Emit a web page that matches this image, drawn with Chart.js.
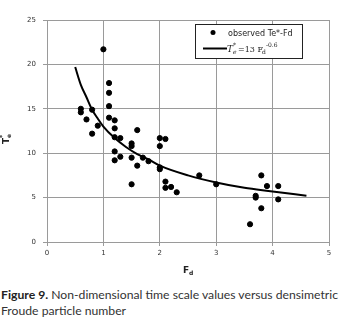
<!DOCTYPE html>
<html lang="en">
<head>
    <meta charset="UTF-8">
    <title>Figure 9</title>
    <script src="https://cdn.jsdelivr.net/npm/chart.js"></script>
    <style>
        body { margin: 0; background: #fff; }
        #wrap { position: relative; width: 347px; height: 329px; }
        #chart { position: absolute; left: 0; top: 0; }
        .caption {
            position: absolute; left: 1px; top: 287px; width: 346px;
            font-family: Lato, "Open Sans", sans-serif; font-size: 12.2px; line-height: 16px;
            color: #333; white-space: nowrap;
        }
        .caption b { color: #222; }
    </style>
</head>
<body>
<div id="wrap">
    <canvas id="chart" width="347" height="285"></canvas>
    <div class="caption"><b>Figure 9.</b> Non-dimensional time scale values versus densimetric<br>Froude particle number</div>
</div>

<script>
    // observed points (Fd, Te*)
    const obsFd = [1.0, 1.1, 1.1, 1.1, 0.6, 0.6, 0.7, 0.8, 0.9, 0.8, 1.1, 1.2, 1.2, 1.6,
                   1.2, 1.3, 1.2, 1.2, 1.3, 1.5, 1.5, 1.5, 1.5, 1.7, 1.6, 1.8,
                   2.0, 2.0, 2.1, 2.0, 2.0, 2.1, 2.1, 2.2, 2.3, 2.7, 3.0,
                   3.7, 3.7, 3.6, 3.8, 3.8, 3.9, 4.1, 4.1];
    const obsTe = [21.7, 17.9, 16.8, 15.3, 15.0, 14.6, 13.8, 14.9, 13.1, 12.2, 14.0, 13.7, 12.8, 12.6,
                   11.8, 11.7, 10.2, 9.2, 9.6, 11.1, 10.8, 9.5, 6.5, 9.5, 8.6, 9.1,
                   11.7, 10.8, 11.6, 8.4, 8.2, 6.8, 6.1, 6.2, 5.6, 7.5, 6.5,
                   5.2, 5.0, 2.0, 7.5, 3.8, 6.3, 6.3, 4.8];

    // fitted curve
    const fitFd = [0.5, 0.6, 0.7, 0.8, 0.9, 1.0, 1.2, 1.4, 1.6, 1.8, 2.0, 2.5, 3.0, 3.5, 4.0, 4.6];
    const fitTe = [19.7, 17.7, 16.3, 14.9, 13.9, 13.0, 11.7, 10.7, 9.9, 9.3, 8.6, 7.5, 6.7, 6.1, 5.7, 5.2];

    const xTicks = [0, 1, 2, 3, 4, 5];
    const yTicks = [0, 5, 10, 15, 20, 25];

    const obsPoints = obsFd.map((x, i) => ({ x: x, y: obsTe[i] }));
    const fitPoints = fitFd.map((x, i) => ({ x: x, y: fitTe[i] }));

    // axis titles and legend with sub/superscripts
    const extras = {
        id: "extras",
        afterDraw(chart) {
            const ctx = chart.ctx;
            ctx.save();
            ctx.fillStyle = "#222";
            ctx.textBaseline = "alphabetic";
            ctx.textAlign = "left";

            // x title F_d
            ctx.font = "bold 9px 'DejaVu Sans'";
            ctx.fillText("F", 183, 273);
            ctx.font = "bold 6px 'DejaVu Sans'";
            ctx.fillText("d", 189, 275);

            // y title T_e^*
            ctx.translate(9, 141);
            ctx.rotate(-Math.PI / 2);
            ctx.font = "bold 9px 'DejaVu Sans'";
            ctx.fillText("T", -3, 0);
            ctx.font = "bold 6px 'DejaVu Sans'";
            ctx.fillText("e", 3, 2);
            ctx.fillText("*", 3, -5);
            ctx.setTransform(1, 0, 0, 1, 0, 0);

            // legend box
            ctx.fillStyle = "#fff";
            ctx.fillRect(195.5, 24.5, 107, 34);
            ctx.strokeStyle = "#222";
            ctx.lineWidth = 1;
            ctx.strokeRect(195.5, 24.5, 107, 34);

            ctx.fillStyle = "#000";
            ctx.beginPath();
            ctx.arc(213, 32.5, 2.5, 0, Math.PI * 2);
            ctx.fill();
            ctx.fillStyle = "#222";
            ctx.font = "8px 'DejaVu Sans'";
            ctx.fillText("observed Te*-Fd", 228, 35.5);

            ctx.strokeStyle = "#000";
            ctx.lineWidth = 2;
            ctx.beginPath();
            ctx.moveTo(203, 48.5);
            ctx.lineTo(227, 48.5);
            ctx.stroke();

            ctx.font = "italic 9px 'DejaVu Serif'";
            ctx.fillText("T", 227, 52);
            ctx.font = "italic 6px 'DejaVu Serif'";
            ctx.fillText("e", 233, 54);
            ctx.fillText("*", 233, 47);
            ctx.font = "8px 'DejaVu Serif'";
            ctx.fillText("=13 F", 238, 52);
            ctx.font = "6px 'DejaVu Serif'";
            ctx.fillText("d", 262, 54);
            ctx.fillText("-0.6", 266, 47);
            ctx.restore();
        }
    };

    new Chart(document.getElementById("chart"), {
        type: "scatter",
        data: {
            datasets: [
                {
                    label: "observed Te*-Fd",
                    data: obsPoints,
                    backgroundColor: "#000",
                    borderColor: "#000",
                    pointRadius: 2.6,
                    pointHoverRadius: 2.6
                },
                {
                    label: "Te*=13 Fd^-0.6",
                    data: fitPoints,
                    showLine: true,
                    borderColor: "#000",
                    borderWidth: 2,
                    pointRadius: 0,
                    cubicInterpolationMode: "monotone"
                }
            ]
        },
        plugins: [extras],
        options: {
            responsive: false,
            animation: false,
            devicePixelRatio: 1,
            layout: { padding: { top: 20, right: 18, left: 0, bottom: 0 } },
            plugins: {
                legend: { display: false },
                tooltip: { enabled: false }
            },
            scales: {
                x: {
                    type: "linear",
                    min: 0, max: 5,
                    afterBuildTicks: s => { s.ticks = xTicks.map(v => ({ value: v })); },
                    afterFit: s => { s.height = 43; },
                    grid: { color: "#9a9a9a", lineWidth: 1, tickLength: 4, tickColor: "#9a9a9a" },
                    border: { color: "#9a9a9a" },
                    ticks: { color: "#333", font: { family: "DejaVu Sans", size: 7 }, padding: 3, maxRotation: 0 }
                },
                y: {
                    type: "linear",
                    min: 0, max: 25,
                    afterBuildTicks: s => { s.ticks = yTicks.map(v => ({ value: v })); },
                    afterFit: s => { s.width = 47; },
                    grid: { color: "#9a9a9a", lineWidth: 1, tickLength: 4, tickColor: "#9a9a9a" },
                    border: { color: "#9a9a9a" },
                    ticks: { color: "#333", font: { family: "DejaVu Sans", size: 7 }, padding: 7 }
                }
            }
        }
    });
</script>
</body>
</html>
